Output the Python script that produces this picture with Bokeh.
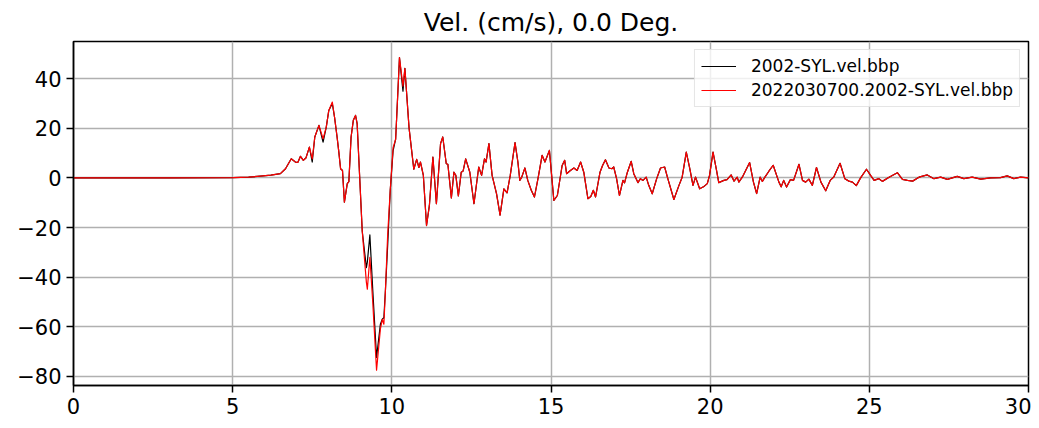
from bokeh.plotting import figure
from bokeh.models import Range1d, FixedTicker, Legend, LegendItem
from bokeh.embed import file_html
from bokeh.resources import INLINE

# ---- Data ----
# Early part (0 - 11 s), where the two traces differ slightly
t_early = [0.0, 3.0, 5.0, 5.5, 5.87, 6.2, 6.50, 6.66, 6.84, 6.97,
           7.05, 7.13, 7.22, 7.30, 7.41, 7.50, 7.58, 7.71, 7.84, 7.94,
           8.02, 8.13, 8.20, 8.28, 8.33, 8.39, 8.45, 8.51, 8.60, 8.65,
           8.72, 8.79, 8.86, 8.91, 9.07, 9.20, 9.23, 9.31, 9.40, 9.52,
           9.64, 9.70, 9.75, 9.80, 9.87, 9.95, 10.04, 10.12, 10.24, 10.35,
           10.41, 10.54, 10.69, 10.78, 10.85, 10.90, 10.99]
obs_early = [0.0, 0.0, 0.1, 0.3, 0.7, 1.1, 1.7, 3.7, 7.7, 6.4,
             6.3, 8.7, 7.1, 8.0, 12.4, 6.4, 16.5, 21.2, 14.4, 20.5,
             27.2, 30.0, 24.5, 16.5, 11.0, 3.7, 3.0, -9.8, -2.3, -1.5,
             16.5, 23.2, 25.2, 21.9, -21.4, -36.2, -34.0, -23.0, -45.0, -72.4,
             -59.0, -57.0, -56.3, -45.0, -27.0, -5.0, 11.0, 15.6, 48.5, 35.0,
             44.2, 20.3, 3.5, 7.5, 4.2, 6.4, 1.0]
sim_early = [0.0, 0.0, 0.1, 0.3, 0.7, 1.1, 1.7, 3.7, 7.7, 6.4,
             6.3, 8.7, 7.1, 8.0, 12.4, 7.7, 16.5, 21.2, 15.8, 20.5,
             27.2, 30.6, 24.5, 16.5, 11.0, 3.7, 3.0, -9.8, -2.3, -1.5,
             16.5, 23.2, 25.2, 21.9, -21.4, -42.0, -44.9, -32.0, -50.0, -77.5,
             -61.0, -57.0, -59.0, -45.0, -22.7, -5.0, 12.2, 15.6, 48.5, 37.0,
             44.2, 20.3, 3.5, 7.5, 4.2, 6.4, 1.0]

# Late part (11 - 30 s), where both traces coincide
t_late = [11.09, 11.18, 11.29, 11.40, 11.53, 11.60, 11.71, 11.76, 11.87, 11.95,
          12.01, 12.09, 12.18, 12.24, 12.32, 12.45, 12.58, 12.73, 12.82, 12.91,
          12.96, 13.05, 13.15, 13.29, 13.40, 13.52, 13.62, 13.72, 13.87, 13.96,
          14.02, 14.08, 14.18, 14.27, 14.38, 14.48, 14.60, 14.72, 14.81, 14.95,
          15.09, 15.20, 15.35, 15.43, 15.49, 15.61, 15.72, 15.82, 15.93, 16.03,
          16.16, 16.25, 16.33, 16.40, 16.54, 16.62, 16.71, 16.82, 16.91, 16.97,
          17.06, 17.15, 17.26, 17.31, 17.40, 17.52, 17.60, 17.73, 17.81, 17.89,
          17.99, 18.07, 18.18, 18.32, 18.44, 18.57, 18.67, 18.86, 19.02, 19.12,
          19.25, 19.36, 19.46, 19.54, 19.67, 19.79, 19.91, 19.98, 20.09, 20.19,
          20.27, 20.43, 20.53, 20.66, 20.75, 20.85, 20.90, 21.01, 21.24, 21.36,
          21.46, 21.57, 21.64, 21.71, 21.85, 21.98, 22.16, 22.23, 22.31, 22.40,
          22.52, 22.62, 22.79, 22.90, 23.0, 23.10, 23.21, 23.34, 23.48, 23.63,
          23.77, 23.88, 24.08, 24.23, 24.36, 24.47, 24.59, 24.73, 24.91, 25.04,
          25.15, 25.30, 25.41, 25.62, 25.88, 26.04, 26.20, 26.36, 26.56, 26.82,
          27.03, 27.24, 27.45, 27.76, 27.97, 28.23, 28.50, 28.81, 29.12, 29.33,
          29.54, 29.75, 30.0]
v_late = [-19.2, -11.1, 8.4, -10.4, 13.8, 16.5, 5.7, 5.5, -8.1, 2.3,
          1.0, -7.3, 2.3, 2.8, 7.7, 2.3, -10.4, 4.4, 1.0, 7.7,
          6.4, 13.8, 1.0, -6.4, -15.0, -4.4, -6.0, 1.0, 14.2, 6.4,
          -1.0, 0.3, 4.0, -1.0, -5.0, -7.7, 0.3, 9.1, 6.4, 11.1,
          -9.1, -7.1, 5.0, 7.1, 1.7, 3.0, 4.0, 3.0, 6.4, 2.3,
          -8.4, -7.5, -5.0, -7.7, 2.3, 5.0, 7.3, 4.0, 3.7, 4.4,
          -0.3, -7.1, -1.0, -2.0, 2.3, 6.7, 1.7, -1.9, -0.3, -1.0,
          0.3, -3.0, -6.4, -0.3, 4.0, 4.4, -0.3, -8.7, -3.0, 0.3,
          10.4, 3.7, -3.0, 0.3, -4.4, -3.6, -2.3, 1.0, 10.4, 3.7,
          -1.9, -1.0, -0.7, 1.2, -1.3, 0.3, -1.7, 0.3, 6.2, -1.7,
          -6.3, 0.3, -1.4, 0.1, 2.8, 5.1, -1.7, -3.6, -1.0, -3.7,
          -0.7, -1.0, 5.5, -1.0, -1.7, -0.5, -3.0, 4.2, -1.7, -5.2,
          -1.0, 0.3, 5.9, -0.3, -1.3, -1.7, -3.1, 0.1, 3.5, 1.0,
          -1.0, -0.3, -1.4, 0.3, 2.1, -0.6, -1.0, -1.3, 0.3, 1.2,
          -0.3, 0.3, -0.6, 0.6, -0.3, 0.3, -0.5, 0.0, 0.1, 0.8,
          -0.3, 0.3, 0.0]

x_ticks = [0, 5, 10, 15, 20, 25, 30]
y_ticks = [-80, -60, -40, -20, 0, 20, 40]
title_text = "Vel. (cm/s), 0.0 Deg."
names = ["2002-SYL.vel.bbp", "2022030700.2002-SYL.vel.bbp"]

t = t_early + t_late
v_obs = obs_early + v_late
v_sim = sim_early + v_late

FONT = "DejaVu Sans"

p = figure(width=1031, height=420, output_backend="svg", toolbar_location=None,
           x_range=Range1d(0, 30), y_range=Range1d(-83.7, 55.0),
           min_border_left=73, min_border_right=3, min_border_top=41, min_border_bottom=35)

p.title.text = title_text
p.title.text_font = FONT
p.title.text_font_size = "25px"
p.title.text_font_style = "normal"
p.title.text_color = "black"
p.title.align = "center"
p.title.standoff = 9
p.title.offset = 0

r1 = p.line(t, v_obs, line_color="black", line_width=1.2, line_join="round")
r2 = p.line(t, v_sim, line_color="red", line_width=1.2, line_join="round")

for ax in (p.xaxis[0], p.yaxis[0]):
    ax.major_label_text_font = FONT
    ax.major_label_text_font_size = "21px"
    ax.major_label_text_color = "black"
    ax.axis_line_color = "black"
    ax.axis_line_width = 1.5
    ax.major_tick_line_color = "black"
    ax.major_tick_line_width = 1.5
    ax.major_tick_out = 7
    ax.major_tick_in = 0
    ax.minor_tick_line_color = None
    ax.major_label_standoff = 5

p.xaxis[0].ticker = FixedTicker(ticks=x_ticks)
p.yaxis[0].ticker = FixedTicker(ticks=y_ticks)
p.yaxis[0].major_label_overrides = {v: (("\u2212" + str(-v)) if v < 0 else str(v)) for v in y_ticks}

p.grid.grid_line_color = "#b0b0b0"
p.grid.grid_line_width = 1.5
p.xgrid.ticker = FixedTicker(ticks=x_ticks)
p.ygrid.ticker = FixedTicker(ticks=y_ticks)

p.outline_line_color = "black"
p.outline_line_width = 1.5
p.background_fill_color = "white"
p.border_fill_color = "white"

legend = Legend(items=[LegendItem(label=names[0], renderers=[r1]),
                       LegendItem(label=names[1], renderers=[r2])],
                location="top_right")
legend.margin = 8
legend.padding = 6
legend.spacing = 4
legend.glyph_width = 35
legend.glyph_height = 20
legend.label_height = 20
legend.label_standoff = 15
legend.label_text_font = FONT
legend.label_text_font_size = "17px"
legend.label_text_color = "black"
legend.border_line_color = "#cccccc"
legend.border_line_width = 1
legend.background_fill_alpha = 0.8
p.add_layout(legend, "center")

open("out.html", "w").write(file_html(p, INLINE))
